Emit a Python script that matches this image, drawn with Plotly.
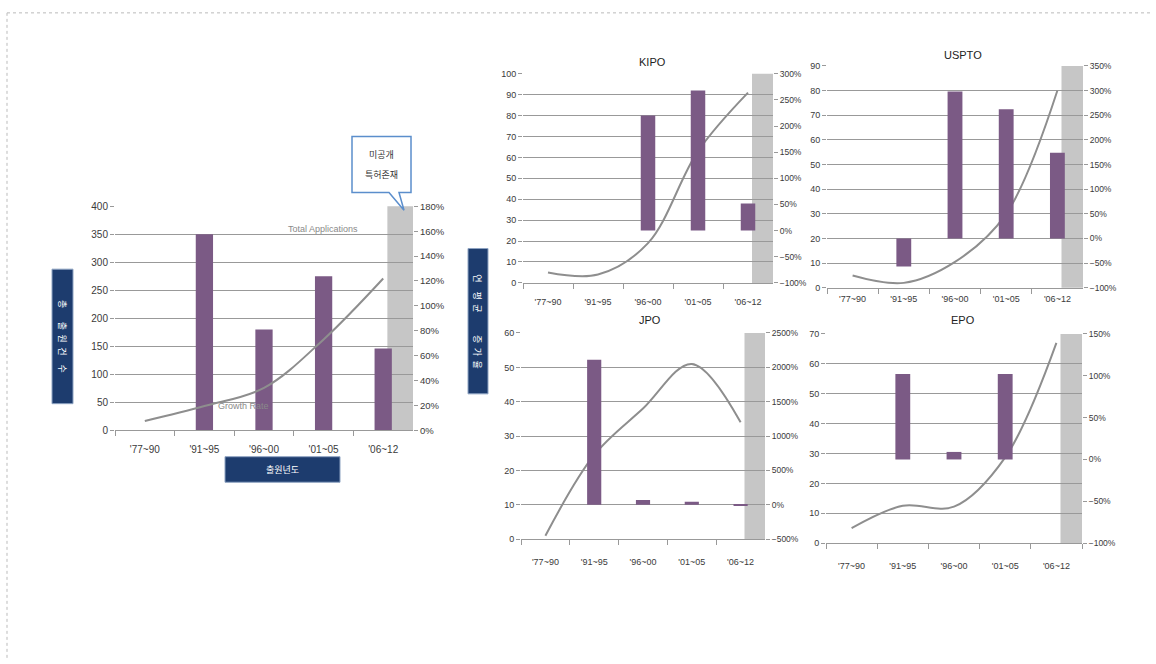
import plotly.graph_objects as go

W, H = 1156, 664

categories = ["'77~90", "'91~95", "'96~00", "'01~05", "'06~12"]

# Main chart: bars = total applications (left axis), line = growth rate (right axis, %)
main_apps = [None, 350, 180, 275, 146]
main_growth = [7.4, 19.4, 34, 73, 122]

# Office panels: bars = growth rate (right axis, %), line = applications (left axis)
kipo_growth = [None, None, 220, 268, 52]
kipo_apps = [5, 4, 19, 63, 91]

uspto_growth = [None, -57, 298, 262, 174]
uspto_apps = [5, 2, 10.5, 30, 80]

jpo_growth = [None, 2110, 70, 45, -10]
jpo_apps = [1, 24.5, 38, 51, 34]

epo_growth = [None, 102, 9, 102, None]
epo_apps = [5, 12.5, 12.2, 28.7, 67]

panel_titles = ["KIPO", "USPTO", "JPO", "EPO"]

BAR = "#7B5A85"
LINE = "#8E8E8E"
GRID = "#999999"
BAND = "#C6C6C6"
NAVY = "#1D3C6E"
TXT = "#3A3A3A"
FONT = "Liberation Sans Narrow, Arial Narrow, Liberation Sans, Noto Sans CJK KR"
KFONT = "Noto Sans CJK KR"

IS = "\u3000"   # ideographic space (1 em)
ES = "\u2002"   # en space (0.5 em)


def px_x(x):
    return x / W


def px_y(y):
    return 1 - y / H


panels = [
    dict(box=(115, 413, 204, 432), bars=main_apps, bar_side="left", line=main_growth, line_side="right",
         lrange=[0, 400], ldt=50, rrange=[0, 180], rdt=20, band=4.07, fs=10, stand=10),
    dict(box=(523, 773, 69, 282), bars=kipo_growth, bar_side="right", line=kipo_apps, line_side="left",
         lrange=[0, 100], ldt=10, rrange=[-100, 300], rdt=50, band=4.08, fs=9, stand=10),
    dict(box=(827, 1083, 61, 287), bars=uspto_growth, bar_side="right", line=uspto_apps, line_side="left",
         lrange=[0, 90], ldt=10, rrange=[-100, 350], rdt=50, band=4.08, fs=9, stand=2),
    dict(box=(521, 765, 333, 543), bars=jpo_growth, bar_side="right", line=jpo_apps, line_side="left",
         lrange=[0, 60], ldt=10, rrange=[-500, 2500], rdt=500, band=4.08, fs=9, stand=14),
    dict(box=(826, 1082, 334, 547), bars=epo_growth, bar_side="right", line=epo_apps, line_side="left",
         lrange=[0, 70], ldt=10, rrange=[-100, 150], rdt=50, band=4.08, fs=9, stand=14),
]

fig = go.Figure()
layout = {}
shapes = []
annotations = []


def add_text(text, x, y, size, color, family, angle=0):
    annotations.append(dict(text=text, x=px_x(x), y=px_y(y), xref="paper", yref="paper",
                            showarrow=False, xanchor="center", yanchor="middle", textangle=angle,
                            font=dict(size=size, color=color, family=family)))


for i, p in enumerate(panels, start=1):
    xa = "x" if i == 1 else f"x{i}"
    xkey = "xaxis" if i == 1 else f"xaxis{i}"
    li, ri = 2 * i - 1, 2 * i
    yl = "y" if li == 1 else f"y{li}"
    yr = f"y{ri}"
    ylkey = "yaxis" if li == 1 else f"yaxis{li}"
    yrkey = f"yaxis{ri}"
    x0, x1, y0, y1 = p["box"]
    xdom = [px_x(x0), px_x(x1)]
    ydom = [px_y(y1), px_y(y0)]

    layout[xkey] = dict(domain=xdom, anchor=yl, type="category", range=[-0.5, 4.5],
                        showline=True, linecolor=GRID, linewidth=1, ticks="outside",
                        tickson="boundaries", ticklen=5, tickcolor=GRID, showgrid=False,
                        ticklabelstandoff=p["stand"],
                        tickfont=dict(size=p["fs"], color=TXT, family=FONT), fixedrange=True)
    layout[ylkey] = dict(domain=ydom, anchor=xa, range=p["lrange"], dtick=p["ldt"], tick0=0,
                         showgrid=True, gridcolor=GRID, gridwidth=1, zeroline=False,
                         showline=False, ticks="outside", ticklen=4, tickcolor=GRID,
                         tickfont=dict(size=p["fs"], color=TXT, family=FONT), fixedrange=True)
    layout[yrkey] = dict(overlaying=yl, side="right", anchor=xa, range=p["rrange"], dtick=p["rdt"],
                         tick0=0, ticksuffix="%", showgrid=False, zeroline=False, showline=False,
                         ticks="outside", ticklen=4, tickcolor=GRID,
                         tickfont=dict(size=p["fs"] - 0.5, color=TXT, family=FONT), fixedrange=True)

    bar_axis = yl if p["bar_side"] == "left" else yr
    line_axis = yl if p["line_side"] == "left" else yr

    fig.add_trace(go.Bar(x=categories, y=p["bars"], xaxis=xa, yaxis=bar_axis, width=0.29,
                         marker=dict(color=BAR, line=dict(width=0)), showlegend=False,
                         hoverinfo="skip"))
    fig.add_trace(go.Scatter(x=categories, y=p["line"], xaxis=xa, yaxis=line_axis, mode="lines",
                             line=dict(shape="spline", smoothing=1.0, color=LINE, width=2),
                             connectgaps=False, showlegend=False, hoverinfo="skip"))

    shapes.append(dict(type="rect", xref=xa, yref=f"{yl} domain", x0=p["band"], x1=4.5, y0=0, y1=1,
                       fillcolor=BAND, line=dict(width=0), layer="below"))

# Panel titles
title_pos = [(652, 57), (963, 50), (650, 320), (963, 320)]
for t, (tx, ty) in zip(panel_titles, title_pos):
    add_text(t, tx, ty, 11, "#222", FONT)

# Labels inside main chart
add_text("Total Applications", 323, 227, 9, "#8A8A8A", FONT)
add_text("Growth Rate", 243, 407, 9, "#8A8A8A", FONT)

# Navy label boxes
boxes = [
    ((52, 73, 268, 405), "총" + IS + ES + "출" + ES + "원" + ES + "건" + IS + "수", 90),
    ((225, 340, 459, 485), "출원년도", 0),
    ((468, 488, 247, 395), "연" + IS + "평" + ES + "균" + IS + IS + ES + "증" + ES + "가" + ES + "율", 90),
]
for (bx0, bx1, by0, by1), txt, ang in boxes:
    shapes.append(dict(type="rect", xref="paper", yref="paper", x0=px_x(bx0), x1=px_x(bx1),
                       y0=px_y(by1), y1=px_y(by0), fillcolor=NAVY, line=dict(color="#8EA3C2", width=1),
                       layer="above"))
    add_text(txt, (bx0 + bx1) / 2, (by0 + by1) / 2, 9, "white", KFONT, ang)

# Callout
pts = [(352, 133), (411, 133), (411, 190), (399, 190), (404, 208), (389, 190), (352, 190)]
path = "M " + " L ".join(f"{px_x(a):.5f},{px_y(b):.5f}" for a, b in pts) + " Z"
shapes.append(dict(type="path", xref="paper", yref="paper", path=path, fillcolor="white",
                   line=dict(color="#5B8ECC", width=1.5), layer="above"))
add_text("미공개", 381, 151, 9, "#333", KFONT)
add_text("특허존재", 381, 172, 9, "#333", KFONT)

# Dotted frame
shapes.append(dict(type="line", xref="paper", yref="paper", x0=px_x(7), x1=px_x(1150), y0=px_y(7), y1=px_y(7),
                   line=dict(color="#BBBBBB", width=1, dash="dot")))
shapes.append(dict(type="line", xref="paper", yref="paper", x0=px_x(7), x1=px_x(7), y0=px_y(7), y1=0,
                   line=dict(color="#BBBBBB", width=1, dash="dot")))

fig.update_layout(**layout)
fig.update_layout(width=W, height=H, margin=dict(l=0, r=0, t=0, b=0), paper_bgcolor="white",
                  plot_bgcolor="white", showlegend=False, shapes=shapes, annotations=annotations,
                  barmode="overlay", font=dict(family=FONT, color=TXT))

fig.write_html("out.html", config={"displayModeBar": False})
